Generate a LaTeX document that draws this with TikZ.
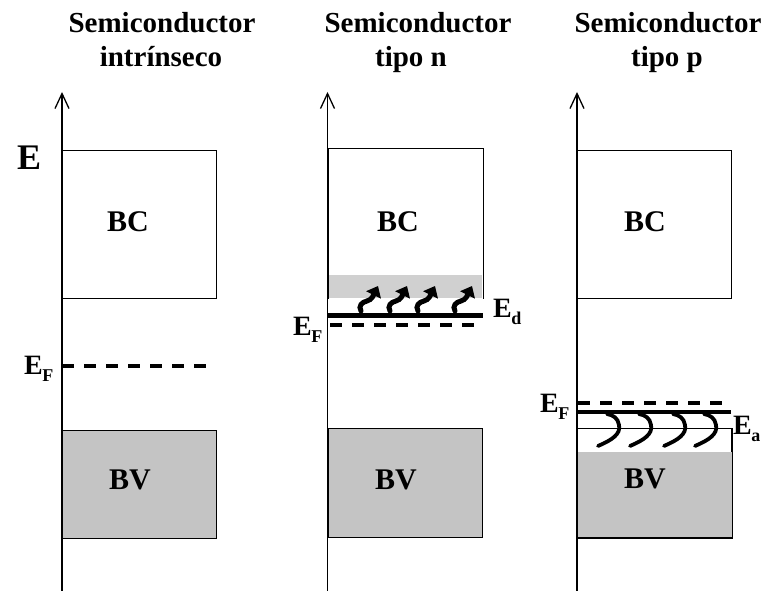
\documentclass[tikz,border=0pt]{standalone}
\usepackage{fontspec}
\setmainfont{Liberation Serif}
\usetikzlibrary{arrows.meta}
\definecolor{bandgray}{RGB}{196,196,196}
\definecolor{lightband}{RGB}{208,208,208}
\newcommand{\Esub}[1]{E\kern-0.5pt\raisebox{-7pt}{\fontsize{18}{18}\selectfont #1}}
\begin{document}
\begin{tikzpicture}[x=1pt,y=-1pt,
  axis/.style={line width=1.3pt, -{Straight Barb[length=15pt,width=14pt]}},
  bandbox/.style={draw, line width=1pt, inner sep=0pt, anchor=north west, minimum width=154pt},
  title/.style={font=\fontsize{29}{29}\selectfont\bfseries, anchor=base, inner sep=0pt},
  bandlbl/.style={font=\fontsize{30}{30}\selectfont\bfseries, inner sep=0pt},
  elbl/.style={font=\fontsize{28}{28}\selectfont\bfseries, inner sep=0pt, anchor=base west},
  fermi/.style={line width=3.5pt, dash pattern=on 12pt off 10pt},
  level/.style={line width=4.5pt},
  squig/.style={line width=5pt, line cap=round},
  hook/.style={line width=3.8pt, line cap=round}]
\useasboundingbox (0,0) rectangle (763,591);

% titles
\node[title] (t1a) at (162,33) {Semiconductor};
\node[title] (t1b) at (161,67) {intrínseco};
\node[title] (t2a) at (418,33) {Semiconductor};
\node[title] (t2b) at (411,67) {tipo n};
\node[title] (t3a) at (668,33) {Semiconductor};
\node[title] (t3b) at (667,67) {tipo p};

% ---------- panel 1 ----------
\node[bandbox, minimum height=148pt] (bc1) at (62,150) {};
\node[bandbox, minimum height=108pt, fill=bandgray] (bv1) at (62,430) {};
\node[bandlbl] (bc1l) at (128,222) {BC};
\node[bandlbl] (bv1l) at (130,480) {BV};
\coordinate (f1a) at (62,366);
\coordinate (f1b) at (212,366);
\draw[fermi] (f1a) -- (f1b);
\node[elbl] (ef1) at (24,374) {\Esub{F}};
\node[font=\fontsize{36}{36}\selectfont\bfseries, inner sep=0pt, anchor=base west] (E) at (17,170) {E};

% ---------- panel 2 ----------
\node[bandbox, draw=none, minimum height=149pt] (bc2) at (328,149) {};
\fill[lightband] (328,275) rectangle (482,298);
\draw[line width=1pt] (bc2.south west) |- (bc2.north east) -- (bc2.south east);
\node[bandbox, minimum height=109pt, fill=bandgray] (bv2) at (328,428) {};
\node[bandlbl] (bc2l) at (398,222) {BC};
\node[bandlbl] (bv2l) at (396,480) {BV};
\coordinate (d2a) at (328,315);
\coordinate (d2b) at (483,315);
\draw[level, line width=5pt] (d2a) -- (d2b);
\coordinate (f2a) at (330,325);
\coordinate (f2b) at (482,325);
\draw[fermi] (f2a) -- (f2b);
\foreach \x in {361,390,418,455}{
  \draw[squig, -{Triangle[length=10pt,width=16pt]}]
    (\x,311) .. controls (\x-3,306) and (\x+1,302) .. (\x+6,301)
    .. controls (\x+11,300) and (\x+13,294) .. (\x+17,286);
}
\node[elbl] (ef2) at (293,335) {\Esub{F}};
\node[elbl] (ed2) at (493,317) {\Esub{d}};

% ---------- panel 3 ----------
\node[bandbox, minimum height=148pt] (bc3) at (577,150) {};
\node[bandbox, minimum height=109pt] (bv3) at (577,428) {};
\fill[bandgray] (577.5,452) rectangle (731.5,536.5);
\draw[line width=1pt] (bv3.north west) rectangle (bv3.south east);
\node[bandlbl] (bc3l) at (645,222) {BC};
\node[bandlbl] (bv3l) at (645,479) {BV};
\coordinate (f3a) at (578,403);
\coordinate (f3b) at (728,403);
\draw[fermi] (f3a) -- (f3b);
\coordinate (a3a) at (577,412);
\coordinate (a3b) at (731,412);
\draw[level, line width=4pt] (a3a) -- (a3b);
\foreach \x in {598,630,664,695}{
  \draw[hook] (\x,446) .. controls (\x+14,440) and (\x+23,434) .. (\x+21,425)
    .. controls (\x+20,418) and (\x+15,415) .. (\x+9,414);
}
\node[elbl] (ef3) at (540,412) {\Esub{F}};
\node[elbl] (ea3) at (733,434) {\Esub{a}};

% axes
\coordinate (x1b) at (62,591);  \coordinate (x1t) at (62,92);
\coordinate (x2b) at (327.5,591); \coordinate (x2t) at (327.5,92);
\coordinate (x3b) at (577,591); \coordinate (x3t) at (577,92);
\draw[axis] (x1b) -- (x1t);
\draw[axis] (x2b) -- (x2t);
\draw[axis] (x3b) -- (x3t);
\end{tikzpicture}
\end{document}
